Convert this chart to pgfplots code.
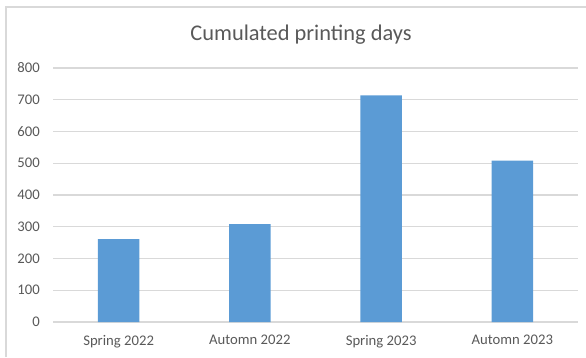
\documentclass[border=0pt]{standalone}
\usepackage{fontspec}
\setmainfont{Carlito}
\usepackage{pgfplots}
\pgfplotsset{compat=1.18}
\definecolor{barblue}{HTML}{5B9BD5}
\definecolor{gridgray}{HTML}{D9D9D9}
\definecolor{txtgray}{HTML}{595959}
\begin{document}
\begin{tikzpicture}[x=1pt,y=1pt]
\useasboundingbox (0,0) rectangle (586,357);
\draw[gridgray, line width=1.3pt] (6,0) -- (6,350) -- (586,350);
\node[txtgray, font=\fontsize{22.4}{26}\selectfont] at (301,322) {Cumulated printing days};
\begin{axis}[
  at={(53pt,35pt)}, anchor=south west,
  scale only axis, width=525pt, height=254pt,
  xmin=-0.5, xmax=3.5, ymin=0, ymax=800,
  axis line style={draw=none},
  major tick length=0pt,
  ymajorgrids, grid style={gridgray, line width=1.1pt},
  ytick={0,100,...,800},
  xtick={0,1,2,3},
  xticklabels={Spring 2022,Automn 2022,Spring 2023,Automn 2023},
  /pgf/number format/assume math mode=true,
  tick label style={font=\fontsize{14.7}{17}\selectfont, text=txtgray},
  yticklabel style={inner sep=0pt, anchor=east, xshift=-13pt},
  xticklabel style={inner sep=0pt, anchor=north, yshift=-13pt},
  ybar, bar width=41.6pt,
  clip=false,
]
\addplot[fill=barblue, draw=none] coordinates {(0,261) (1,308) (2,714) (3,508)};
\end{axis}
\end{tikzpicture}
\end{document}
